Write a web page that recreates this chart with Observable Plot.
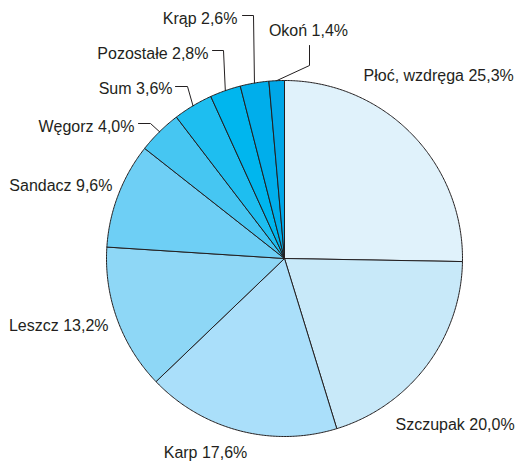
<!DOCTYPE html>
<html>
<head>
<meta charset="utf-8">
<script src="https://cdn.jsdelivr.net/npm/d3@7"></script>
<script src="https://cdn.jsdelivr.net/npm/@observablehq/plot@0.6"></script>
<style>
  html, body { margin: 0; padding: 0; background: #fff; }
  #chart svg { display: block; }
</style>
</head>
<body>
<div id="chart"></div>
<script>
// ---- data ----
const categories = ["Płoć, wzdręga", "Szczupak", "Karp", "Leszcz", "Sandacz", "Węgorz", "Sum", "Pozostałe", "Krąp", "Okoń"];
const shares = [25.3, 20.0, 17.6, 13.2, 9.6, 4.0, 3.6, 2.8, 2.6, 1.4];
const shareLabels = ["25,3%", "20,0%", "17,6%", "13,2%", "9,6%", "4,0%", "3,6%", "2,8%", "2,6%", "1,4%"];
const sliceColors = ["#e0f2fb", "#c8e9f9", "#aadffa", "#8ed7f6", "#6ecff5", "#46c6f2", "#1ebef0", "#00b6ee", "#00aeeb", "#00a7e8"];

// ---- layout (unit-circle coordinates, radius = 1) ----
const C = {x: 284, y: 258, r: 178, W: 517, H: 464};
const U = (px, py) => [(px - C.x) / C.r, (C.y - py) / C.r];
const labelLayout = [
  {pos: U(363, 75), anchor: "start"},
  {pos: U(395, 424), anchor: "start"},
  {pos: U(205, 452), anchor: "middle"},
  {pos: U(108, 325), anchor: "end"},
  {pos: U(112, 185), anchor: "end"},
  {pos: U(134, 126), anchor: "end", leader: [U(150, 123), U(138, 123)]},
  {pos: U(172, 88), anchor: "end", leader: [U(187, 86), U(175, 86)]},
  {pos: U(208, 53), anchor: "end", leader: [U(223, 50), U(212, 50)]},
  {pos: U(237, 18), anchor: "end", leader: [U(253, 15), U(242, 15)]},
  {pos: U(308, 30), anchor: "middle", leader: [U(309, 65), U(309, 45)]}
];

const total = d3.sum(shares);
let acc = 0;
const slices = categories.map((name, i) => {
  const a0 = acc / total * 2 * Math.PI;
  acc += shares[i];
  const a1 = acc / total * 2 * Math.PI;
  return {name, i, a0, a1, mid: (a0 + a1) / 2, color: sliceColors[i]};
});

// slice polygons
const polyPts = [];
for (const s of slices) {
  polyPts.push({name: s.name, x: 0, y: 0, color: s.color});
  const n = Math.max(4, Math.ceil((s.a1 - s.a0) / (Math.PI / 360)));
  for (let k = 0; k <= n; k++) {
    const a = s.a0 + (s.a1 - s.a0) * k / n;
    polyPts.push({name: s.name, x: Math.sin(a), y: Math.cos(a), color: s.color});
  }
  polyPts.push({name: s.name, x: 0, y: 0, color: s.color});
}

// leaders
const leaderPts = [];
slices.forEach((s, i) => {
  const L = labelLayout[i].leader;
  if (!L) return;
  leaderPts.push({name: s.name, x: Math.sin(s.mid), y: Math.cos(s.mid)});
  for (const p of L) leaderPts.push({name: s.name, x: p[0], y: p[1]});
});

const labels = slices.map((s, i) => ({
  text: `${s.name} ${shareLabels[i]}`,
  x: labelLayout[i].pos[0], y: labelLayout[i].pos[1], anchor: labelLayout[i].anchor
}));

const font = "'Liberation Sans Narrow', 'Liberation Sans', Arial, sans-serif";
const textMark = (anchor) => Plot.text(labels.filter(d => d.anchor === anchor), {
  x: "x", y: "y", text: "text", textAnchor: anchor, fill: "#231f20",
  fontSize: 16, fontFamily: font
});

const chart = Plot.plot({
  width: C.W, height: C.H,
  margin: 0,
  style: {background: "#fff", fontFamily: font},
  x: {domain: [-1, 1], range: [C.x - C.r, C.x + C.r], axis: null},
  y: {domain: [-1, 1], range: [C.y + C.r, C.y - C.r], axis: null},
  color: {type: "identity"},
  marks: [
    Plot.line(polyPts, {x: "x", y: "y", z: "name", fill: "color", stroke: "#231f20", strokeWidth: 1, strokeLinejoin: "round"}),
    Plot.line(leaderPts, {x: "x", y: "y", z: "name", stroke: "#231f20", strokeWidth: 1}),
    textMark("start"), textMark("middle"), textMark("end")
  ]
});
document.getElementById("chart").appendChild(chart);
</script>
</body>
</html>
